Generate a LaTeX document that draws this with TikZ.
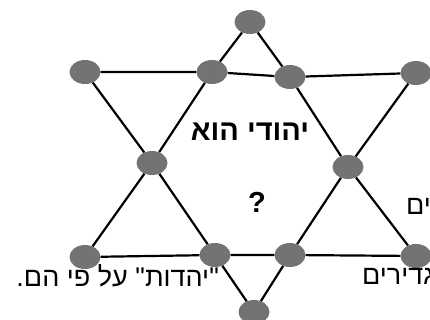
\documentclass[tikz,border=0pt]{standalone}
\usepackage{fontspec}
\usepackage{xcolor}
\usepackage{tikz}
\usetikzlibrary{shapes.geometric}
\TeXXeTstate=1
\newfontfamily\hebfont[Script=Hebrew]{Liberation Sans}
\definecolor{dotgray}{RGB}{115,115,115}

\begin{document}
\begin{tikzpicture}[x=1pt, y=-1pt,
  dot/.style={ellipse, fill=dotgray, draw=none, minimum width=31pt,
    minimum height=24pt, inner sep=0pt},
  side/.style={line width=2.2pt, black},
  heb/.style={font=\hebfont\fontsize{27}{30}\selectfont, inner sep=0pt},
  hebbold/.style={font=\hebfont\bfseries\fontsize{29}{31}\selectfont, inner sep=0pt},
]
  \useasboundingbox (0,0) rectangle (430,320);

  % Points of the star
  \node[dot] (top) at (250, 22) {};
  \node[dot] (ulo) at (85, 72) {};
  \node[dot] (uro) at (416, 73) {};
  \node[dot] (llo) at (85, 257) {};
  \node[dot] (lro) at (416, 256) {};
  \node[dot] (bot) at (254, 312) {};

  % Crossings
  \node[dot] (uil) at (212, 72) {};
  \node[dot] (uir) at (290, 77) {};
  \node[dot] (ml) at (152, 163) {};
  \node[dot] (mr) at (348, 167) {};
  \node[dot] (lil) at (215, 255) {};
  \node[dot] (lir) at (290, 255) {};

  % Upward triangle
  \draw[side] (top) -- (uil) -- (ml) -- (llo);
  \draw[side] (top) -- (uir) -- (mr) -- (lro);
  \draw[side] (llo) -- (lil) -- (lir) -- (lro);

  % Downward triangle
  \draw[side] (ulo) -- (uil) -- (uir) -- (uro);
  \draw[side] (ulo) -- (ml) -- (lil) -- (bot);
  \draw[side] (uro) -- (mr) -- (lir) -- (bot);

  % Texts
  \node[hebbold] (title) at (250, 132) {\beginR יהודי הוא\endR};
  \node[hebbold] (quest) at (257, 202) {?};
  \node[heb, anchor=west] (endr) at (406, 206) {\beginR ים\endR};
  \node[heb, anchor=west] (defs) at (362, 276) {\beginR גדירים\endR};
  \node[heb, anchor=east] (judaism) at (219, 276) {\beginR "יהדות" על פי הם.\endR};
\end{tikzpicture}
\end{document}
